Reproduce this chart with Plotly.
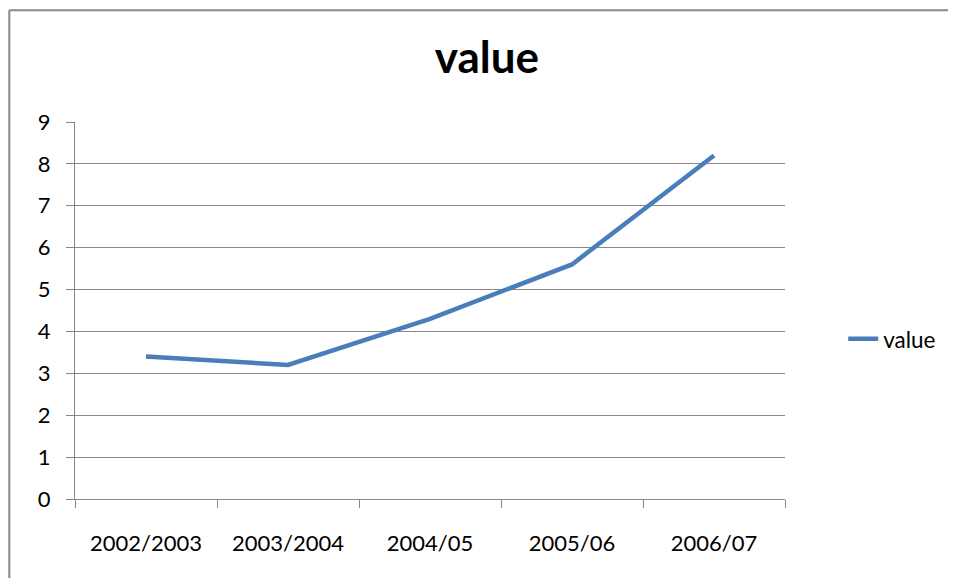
import plotly.graph_objects as go

categories = ["2002/2003", "2003/2004", "2004/05", "2005/06", "2006/07"]
values = [3.4, 3.2, 4.3, 5.6, 8.2]
y_ticks = [0, 1, 2, 3, 4, 5, 6, 7, 8, 9]

grid = "#878787"
font = "Lato, Carlito, Calibri, sans-serif"

W, H = 948, 570
L, R, T, B = 67, 171, 114, 79
PW, PH = W - L - R, H - T - B

fig = go.Figure()
fig.add_trace(go.Scatter(
    x=categories, y=values, mode="lines", name="value",
    line=dict(color="#4a7ebb", width=4.5),
))

bx = (1.3 - L) / PW
by = (H - B - 2.3) / PH
right_edge = (W - L + 5) / PW
bottom_edge = -(B + 5) / PH

fig.update_layout(
    width=W, height=H,
    margin=dict(l=L, r=R, t=T, b=B),
    paper_bgcolor="white", plot_bgcolor="white",
    font=dict(family=font, size=22, color="black"),
    title=dict(text="<b>value</b>", x=479 / W, xanchor="center", y=1 - 50 / H, yanchor="middle",
               font=dict(family=font, size=44, color="black")),
    showlegend=True,
    legend=dict(x=1.082, xanchor="left", y=0.424, yanchor="middle",
                font=dict(family=font, size=22.5), bgcolor="rgba(0,0,0,0)"),
    xaxis=dict(type="category", range=[-0.5, 4.5], tickson="boundaries",
               ticks="outside", ticklen=8, tickcolor=grid, tickwidth=1.3,
               showline=True, linecolor=grid, linewidth=1.3,
               showgrid=False, ticklabelstandoff=24, fixedrange=True),
    yaxis=dict(range=[0, 9], tickvals=y_ticks, ticks="outside", ticklen=8,
               tickcolor=grid, tickwidth=1.3, showline=True, linecolor=grid,
               linewidth=1.3, showgrid=True, gridcolor=grid, gridwidth=1.3,
               zeroline=False, ticklabelstandoff=11, fixedrange=True),
    shapes=[
        dict(type="line", xref="paper", yref="paper", x0=bx, x1=bx, y0=bottom_edge, y1=by,
             line=dict(color=grid, width=2), layer="below"),
        dict(type="line", xref="paper", yref="paper", x0=bx, x1=right_edge, y0=by, y1=by,
             line=dict(color=grid, width=2), layer="below"),
    ],
)

fig.write_html("out.html")
